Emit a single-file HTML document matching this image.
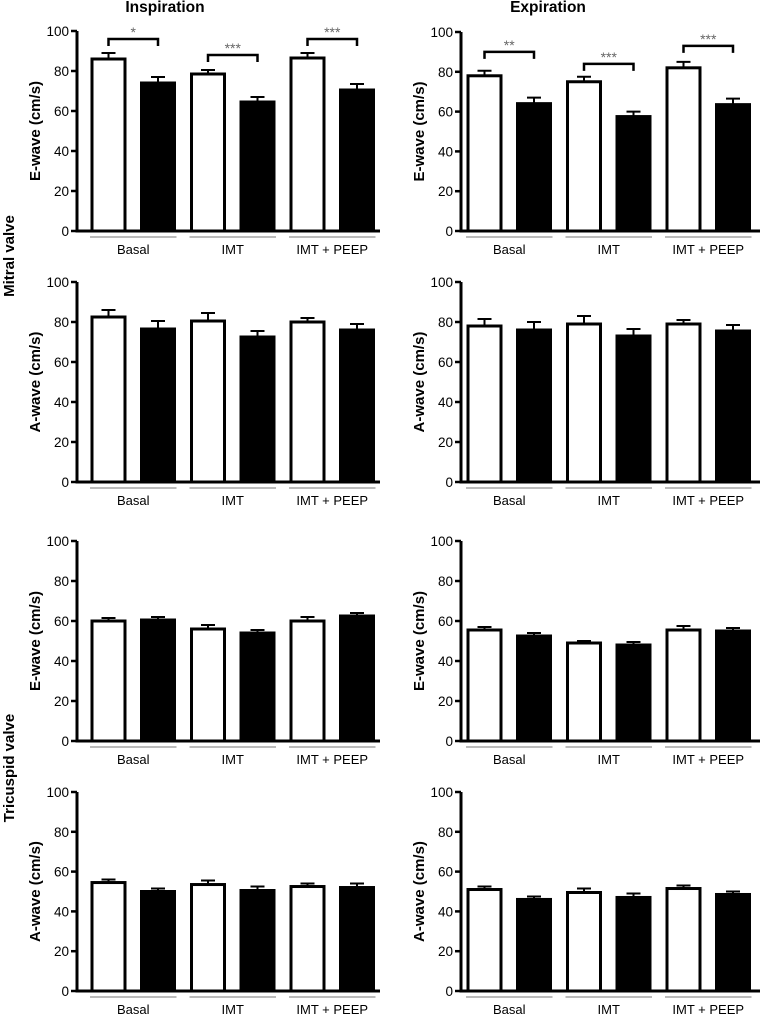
<!DOCTYPE html>
<html><head><meta charset="utf-8"><style>
html,body{margin:0;padding:0;background:#fff;width:760px;height:1014px;overflow:hidden}
svg{display:block;font-family:"Liberation Sans",Arial,sans-serif}
</style></head><body>
<svg id="fig" width="760" height="1014" viewBox="0 0 760 1014"></svg>
<script>
const categories = ["Basal","IMT","IMT + PEEP"];
const yTicks = [0,20,40,60,80,100];
const columnTitles = ["Inspiration","Expiration"];
// values: [white, black] per category
const mitralEInspValues = [86,74, 78.5,64.5, 86.5,70.5];
const mitralEInspErr    = [3,3, 2,2.5, 2.5,3];
const mitralEExpValues  = [78,64, 75,57.5, 82,63.5];
const mitralEExpErr     = [2.5,3, 2.5,2.5, 3,3];
const mitralAInspValues = [82.5,76.5, 80.5,72.5, 80,76];
const mitralAInspErr    = [3.5,4, 4,3, 2,3];
const mitralAExpValues  = [78,76, 79,73, 79,75.5];
const mitralAExpErr     = [3.5,4, 4,3.5, 2,3];
const triEInspValues = [60,60.5, 56,54, 60,62.5];
const triEInspErr    = [1.5,1.5, 2,1.5, 2,1.5];
const triEExpValues  = [55.5,52.5, 49,48, 55.5,55];
const triEExpErr     = [1.5,1.5, 1,1.5, 2,1.5];
const triAInspValues = [54.5,50, 53.5,50.5, 52.5,52];
const triAInspErr    = [1.5,1.5, 2,2, 1.5,2];
const triAExpValues  = [51,46, 49.5,47, 51.5,48.5];
const triAExpErr     = [1.5,1.5, 2,2, 1.5,1.5];
const sigInspLabels = ["*","***","***"];
const sigInspLevels = [96,88,96];
const sigExpLabels  = ["**","***","***"];
const sigExpLevels  = [90,84,93];

const NS="http://www.w3.org/2000/svg";
const svg=document.getElementById('fig');
function mk(tag,attrs,parent){const e=document.createElementNS(NS,tag);for(const k in attrs)e.setAttribute(k,attrs[k]);(parent||svg).appendChild(e);return e;}

const panels=[
 {id:'mitral-e-insp',ax:77,b0:92,top:31,bot:231,title:'E-wave (cm/s)',v:mitralEInspValues,e:mitralEInspErr,sl:sigInspLabels,sv:sigInspLevels},
 {id:'mitral-e-exp',ax:461,b0:468,top:32,bot:231,title:'E-wave (cm/s)',v:mitralEExpValues,e:mitralEExpErr,sl:sigExpLabels,sv:sigExpLevels},
 {id:'mitral-a-insp',ax:77,b0:92,top:282,bot:482,title:'A-wave (cm/s)',v:mitralAInspValues,e:mitralAInspErr},
 {id:'mitral-a-exp',ax:461,b0:468,top:282,bot:482,title:'A-wave (cm/s)',v:mitralAExpValues,e:mitralAExpErr},
 {id:'tricuspid-e-insp',ax:77,b0:92,top:541,bot:741,title:'E-wave (cm/s)',v:triEInspValues,e:triEInspErr},
 {id:'tricuspid-e-exp',ax:461,b0:468,top:541,bot:741,title:'E-wave (cm/s)',v:triEExpValues,e:triEExpErr},
 {id:'tricuspid-a-insp',ax:77,b0:92,top:792,bot:991,title:'A-wave (cm/s)',v:triAInspValues,e:triAInspErr},
 {id:'tricuspid-a-exp',ax:461,b0:468,top:792,bot:991,title:'A-wave (cm/s)',v:triAExpValues,e:triAExpErr}
];

const tt1=mk('text',{x:165,y:12,'text-anchor':'middle','font-size':15.5,'font-weight':'bold'});tt1.textContent=columnTitles[0];


const tt2=mk('text',{x:548,y:12,'text-anchor':'middle','font-size':15.5,'font-weight':'bold'});tt2.textContent=columnTitles[1];


const r1=mk('text',{x:0,y:0,transform:'translate(14,256) rotate(-90)','text-anchor':'middle','font-size':15,'font-weight':'bold'});r1.textContent='Mitral valve';


const r2=mk('text',{x:0,y:0,transform:'translate(14,768) rotate(-90)','text-anchor':'middle','font-size':15,'font-weight':'bold'});r2.textContent='Tricuspid valve';



const pitch=99.5, inner=49.5, bw=33;
panels.forEach(p=>{
  const g=mk('g',{});
  
  
  const y=v=>p.bot-(v/100)*(p.bot-p.top);
  const xOf=i=>p.b0+Math.floor(i/2)*pitch+(i%2)*inner;
  p.v.forEach((v,i)=>{
    const x=xOf(i), yt=y(v), ye=y(v+p.e[i]), cx=x+bw/2;
    const eb=mk('path',{d:`M${cx},${yt} V${ye} M${cx-7},${ye} H${cx+7}`,stroke:'#000','stroke-width':2,fill:'none'},g);
    
    
    const r=mk('rect',{x:x,y:yt,width:bw,height:p.bot-yt,fill:i%2?'#000':'#fff',stroke:'#000','stroke-width':3},g);
    
    
  });
  const ya=mk('line',{x1:p.ax,y1:p.top,x2:p.ax,y2:p.bot+1.5,stroke:'#000','stroke-width':3},g);
  
  
  const xa=mk('line',{x1:p.ax-1.5,y1:p.bot,x2:p.ax+303,y2:p.bot,stroke:'#000','stroke-width':3},g);
  
  
  yTicks.forEach(t=>{
    const ty=y(t);
    const tk=mk('line',{x1:p.ax-6,y1:ty,x2:p.ax,y2:ty,stroke:'#000','stroke-width':2.5},g);
    
    
    const tl=mk('text',{x:p.ax-8,y:ty+5,'text-anchor':'end','font-size':13.5},g);tl.textContent=t;
    
    
  });
  const yt=mk('text',{x:0,y:0,transform:`translate(${p.ax-37},${(p.top+p.bot)/2}) rotate(-90)`,'text-anchor':'middle','font-size':15,'font-weight':'bold'},g);yt.textContent=p.title;
  
  
  categories.forEach((c,k)=>{
    const x0=xOf(2*k)-2, x1=xOf(2*k+1)+bw+2;
    const ul=mk('line',{x1:x0,y1:p.bot+6,x2:x1,y2:p.bot+6,stroke:'#777','stroke-width':1},g);
    
    
    const cl=mk('text',{x:(x0+x1)/2,y:p.bot+23,'text-anchor':'middle','font-size':13},g);cl.textContent=c;
    
    
  });
  if(p.sl){
    p.sl.forEach((s,k)=>{
      const a=xOf(2*k)+bw/2, b=xOf(2*k+1)+bw/2, by=y(p.sv[k]);
      const br=mk('path',{d:`M${a},${by+7} V${by} H${b} V${by+7}`,stroke:'#000','stroke-width':2.5,fill:'none'},g);
      
      
      const st=mk('text',{x:(a+b)/2,y:by-2,'text-anchor':'middle','font-size':14,fill:'#666'},g);st.textContent=s;
      
      
    });
  }
});
</script>
</body></html>
